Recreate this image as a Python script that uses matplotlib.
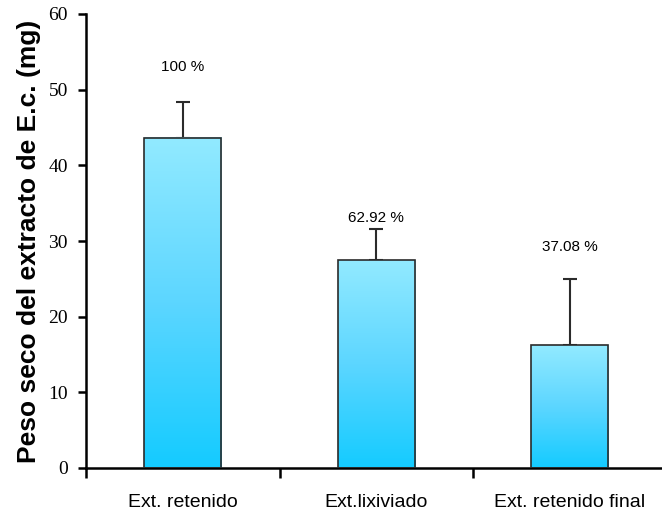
import numpy as np
import matplotlib.pyplot as plt
from matplotlib.colors import LinearSegmentedColormap

categorias = ['Ext. retenido', 'Ext.lixiviado', 'Ext. retenido final']
peso = [43.65, 27.47, 16.19]
error = [4.75, 4.15, 8.85]
porcentajes = ['100 %', '62.92 %', '37.08 %']
y_porcentaje = [53.0, 33.0, 29.2]

plt.rcParams['font.family'] = ['Liberation Sans', 'DejaVu Sans']

fig = plt.figure(figsize=(6.62, 5.12), dpi=100)
ax = fig.add_axes([86 / 662, 44 / 512, 580.5 / 662, 454 / 512])

x = np.arange(len(categorias))
ancho = 0.40

# degradado vertical de cada barra (claro arriba, intenso abajo)
cmap = LinearSegmentedColormap.from_list('celeste', ['#14cbff', '#5cd6ff', '#92eaff'])
grad = np.linspace(0, 1, 256).reshape(-1, 1)

barras = ax.bar(x, peso, width=ancho, color='none', edgecolor='#2b2b2b',
                linewidth=1.2, zorder=3)
for b in barras:
    x0, y0 = b.get_x(), b.get_y()
    w, h = b.get_width(), b.get_height()
    ax.imshow(grad, cmap=cmap, origin='lower', aspect='auto',
              extent=(x0, x0 + w, y0, y0 + h), zorder=2)

ax.errorbar(x, peso, yerr=[np.zeros(len(peso)), error], fmt='none',
            ecolor='#2b2b2b', elinewidth=1.5, capsize=5, capthick=1.5, zorder=1)

for xi, yi, t in zip(x, y_porcentaje, porcentajes):
    ax.text(xi, yi, t, ha='center', va='center', fontsize=11)

ax.set_xlim(-0.5, len(categorias) - 0.5)
ax.set_ylim(0, 60)
ax.set_yticks(range(0, 61, 10))
ax.set_yticklabels([str(v) for v in range(0, 61, 10)],
                   family='Liberation Serif', fontsize=14)
ax.set_xticks(np.arange(-0.5, len(categorias), 1))
ax.set_xticklabels([])
ax.set_xticks(x, minor=True)
ax.set_xticklabels(categorias, minor=True, fontsize=14)
ax.tick_params(axis='x', which='minor', length=0, pad=19)
ax.tick_params(axis='x', which='major', length=7, width=1.8, direction='out')
ax.tick_params(axis='y', length=6, width=1.8, direction='out', pad=7)

for lado in ['top', 'right']:
    ax.spines[lado].set_visible(False)
for lado in ['left', 'bottom']:
    ax.spines[lado].set_linewidth(1.8)

ax.set_ylabel('Peso seco del extracto de E.c. (mg)', fontsize=19,
              fontweight='bold', labelpad=5)

fig.savefig('out.png', dpi=100)
